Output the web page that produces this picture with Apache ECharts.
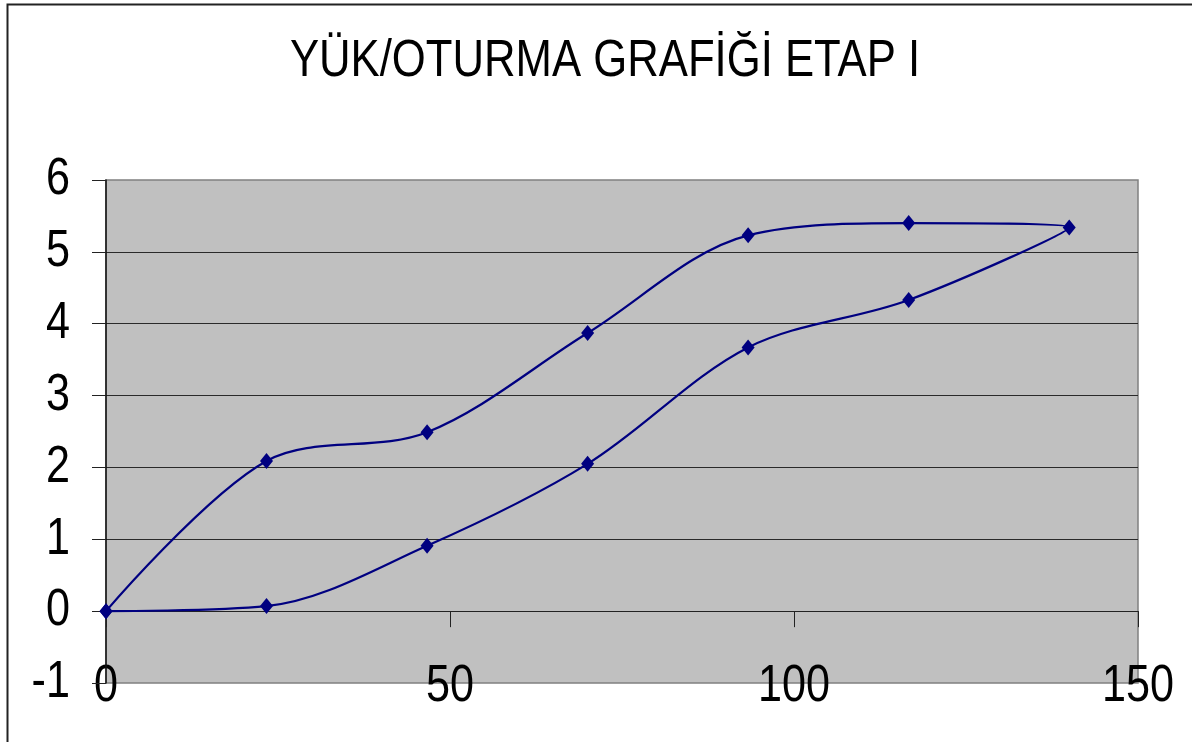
<!DOCTYPE html>
<html>
<head>
<meta charset="utf-8">
<script src="https://cdn.jsdelivr.net/npm/echarts@6/dist/echarts.min.js"></script>
<style>
html,body{margin:0;padding:0;background:#fff;}
#chart{width:1192px;height:742px;}
</style>
</head>
<body>
<div id="chart"></div>
<script>
// Data (load stage vs settlement), loading then unloading path
const titleText = 'YÜK/OTURMA GRAFİĞİ ETAP I';
const loadValues = [0, 23.33, 46.67, 70, 93.33, 116.67, 140, 116.67, 93.33, 70, 46.67, 23.33, 0];
const settlementValues = [0, 2.09, 2.49, 3.87, 5.23, 5.40, 5.34, 4.33, 3.67, 2.05, 0.91, 0.07, 0];
const xTicks = [0, 50, 100, 150];
const yTicks = [-1, 0, 1, 2, 3, 4, 5, 6];

const FONT = '"Liberation Sans Narrow", "Arial Narrow", "Liberation Sans", Arial, sans-serif';
const NARROW = 0.83; // the reference uses a condensed face
const points = loadValues.map((x, i) => [x, settlementValues[i]]);

const chart = echarts.init(document.getElementById('chart'), null, {renderer: 'canvas'});
chart.setOption({
  animation: false,
  backgroundColor: '#ffffff',
  grid: {
    left: 106, right: 54, top: 180, bottom: 59,
    show: true, backgroundColor: '#C0C0C0', borderColor: '#808080', borderWidth: 1.5
  },
  xAxis: {
    type: 'value', min: xTicks[0], max: xTicks[xTicks.length - 1], interval: 50,
    position: 'bottom',
    axisLine: {show: true, onZero: true, lineStyle: {color: '#222', width: 1}},
    axisTick: {show: true, length: 16, lineStyle: {color: '#222'}},
    axisLabel: {show: false},
    splitLine: {show: false}
  },
  yAxis: {
    type: 'value', min: yTicks[0], max: yTicks[yTicks.length - 1], interval: 1,
    axisLine: {show: true, onZero: false, lineStyle: {color: '#111', width: 1.5}},
    axisTick: {show: true, length: 14, lineStyle: {color: '#222'}},
    axisLabel: {show: false},
    splitLine: {show: true, showMinLine: false, showMaxLine: false, lineStyle: {color: '#2a2a2a', width: 1}}
  },
  series: [{
    type: 'line',
    data: points,
    smooth: 0.33,
    showAllSymbol: true,
    symbol: 'diamond',
    symbolSize: [13, 16],
    clip: false,
    lineStyle: {color: '#000080', width: 2.2},
    itemStyle: {color: '#000080'}
  }]
});

// Text drawn as condensed real text, placed through the chart's own scales
const graphics = [{
  type: 'rect', z: -10, silent: true,
  shape: {x: 7.5, y: 4.5, width: 1300, height: 900},
  style: {fill: 'none', stroke: '#222', lineWidth: 2}
}, {
  type: 'text', x: 605, y: 62, scaleX: 0.84, silent: true,
  style: {text: titleText, font: '52px ' + FONT, fill: '#000', align: 'center', verticalAlign: 'middle'}
}];
const yLabelX = chart.convertToPixel({xAxisIndex: 0}, xTicks[0]) - 36;
yTicks.forEach(v => {
  graphics.push({
    type: 'text', x: yLabelX, y: chart.convertToPixel({yAxisIndex: 0}, v), scaleX: NARROW, silent: true,
    style: {text: String(v), font: '52px ' + FONT, fill: '#000', align: 'right', verticalAlign: 'middle'}
  });
});
const xLabelY = chart.convertToPixel({yAxisIndex: 0}, yTicks[0]) + 4;
xTicks.forEach(v => {
  graphics.push({
    type: 'text', x: chart.convertToPixel({xAxisIndex: 0}, v), y: xLabelY, scaleX: NARROW, silent: true,
    style: {text: String(v), font: '52px ' + FONT, fill: '#000', align: 'center', verticalAlign: 'middle'}
  });
});
chart.setOption({graphic: graphics});
</script>
</body>
</html>
